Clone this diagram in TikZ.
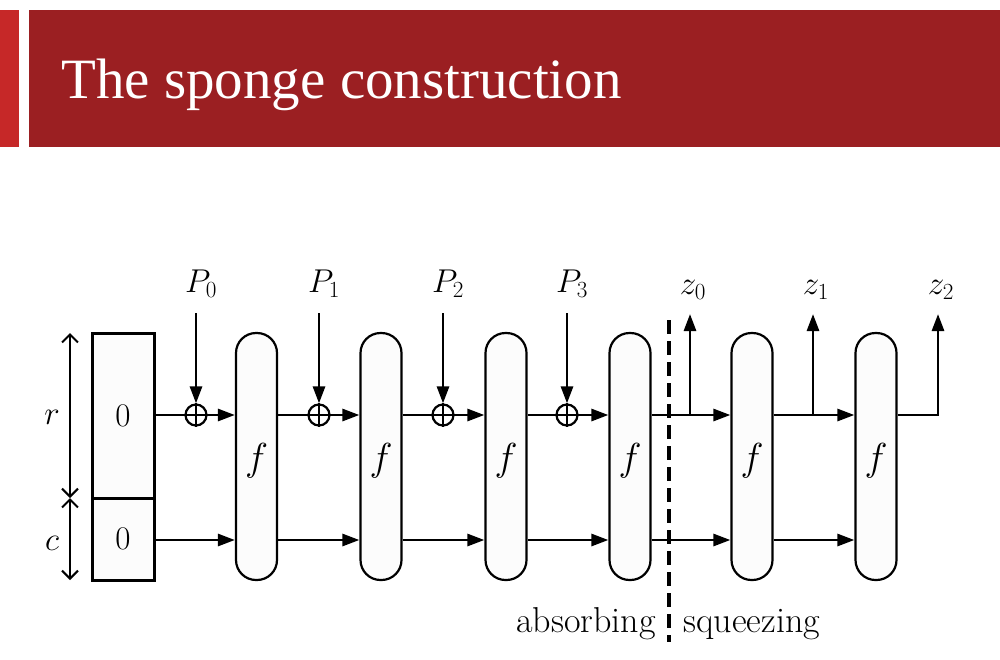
\RequirePackage{fix-cm}
\documentclass[tikz,border=0pt]{standalone}
\usepackage{fontspec}
\newfontfamily\titlefont{Liberation Serif}
\usetikzlibrary{arrows.meta}
\definecolor{barred}{HTML}{9B1F22}
\definecolor{stripered}{HTML}{C62828}
\begin{document}
\begin{tikzpicture}[x=1pt,y=-1pt,line width=2.8pt,
  big/.style={font=\fontsize{33}{33}\selectfont},
  arr/.style={-{Triangle[length=17pt,width=12pt]}},
  dbl/.style={{Straight Barb[length=8pt,width=16pt,line width=2pt]}-{Straight Barb[length=8pt,width=16pt,line width=2pt]}},
  fbox/.style={draw,rounded corners=20pt,minimum width=41pt,minimum height=247pt,inner sep=0pt,fill=gray!2,line width=2.2pt},
  state/.style={draw,minimum width=62pt,inner sep=0pt,fill=gray!2,line width=3pt,font=\fontsize{33}{33}\selectfont},
  xor/.style={draw,circle,minimum size=21pt,inner sep=0pt,line width=2.2pt},
  lab/.style={big,inner sep=0pt},
  word/.style={font=\fontsize{36}{36}\selectfont,inner sep=0pt},
  sep/.style={line width=3.2pt,dash pattern=on 14pt off 7pt}]
\useasboundingbox (0,0) rectangle (1000,659);
% title bar
\fill[stripered] (0,10) rectangle (19,147);
\fill[barred] (29,10) rectangle (1000,147);
\node[anchor=base west,inner sep=0pt,text=white,font=\titlefont\fontsize{57}{57}\selectfont] (title) at (60,98) {The sponge construction};
% state
\node[state,minimum height=165pt] (s0) at (123,415.5) {$0$};
\node[state,minimum height=82pt] (s1) at (123,539) {$0$};
\coordinate (rt) at (70,333);
\coordinate (rm) at (70,498);
\coordinate (rb) at (70,580);
\draw[dbl] (rt) -- (rm);
\draw[dbl] (rm) -- (rb);
\node[lab] (r) at (52,417) {$r$};
\node[lab] (c) at (52,543) {$c$};
% f boxes
\foreach \i/\x in {1/256.5,2/381,3/506,4/630,5/752,6/876}{
  \node[fbox] (f\i) at (\x,456.5) {};
  \node[inner sep=0pt,font=\fontsize{39}{39}\selectfont] (fl\i) at (\x,461) {$f$};
}
% xor nodes and inputs
\foreach \i/\x in {0/196,1/319,2/443,3/567}{
  \node[xor] (x\i) at (\x,415) {};
  \draw[line width=2.2pt] (x\i.north) -- (x\i.south) (x\i.west) -- (x\i.east);
  \node[lab] (P\i) at (\x+5,284) {$P_\i$};
  \coordinate (p\i) at (\x,313);
  \draw[arr] (p\i) -- (x\i.north);
}
% top row
\draw (s0.east |- x0) -- (x0.west);
\draw[arr] (x0.east) -- (f1.west |- x0);
\draw (f1.east |- x1) -- (x1.west);
\draw[arr] (x1.east) -- (f2.west |- x1);
\draw (f2.east |- x2) -- (x2.west);
\draw[arr] (x2.east) -- (f3.west |- x2);
\draw (f3.east |- x3) -- (x3.west);
\draw[arr] (x3.east) -- (f4.west |- x3);
\draw[arr] (f4.east |- x3) -- (f5.west |- x3);
\draw[arr] (f5.east |- x3) -- (f6.west |- x3);
% outputs
\foreach \i/\x in {0/690,1/813,2/938}{
  \node[lab] (z\i) at (\x+3,290) {$z_\i$};
  \coordinate (zb\i) at (\x,415);
  \coordinate (zt\i) at (\x,314);
}
\draw[arr] (zb0) -- (zt0);
\draw[arr] (zb1) -- (zt1);
\draw[arr] (f6.east |- x3) -- (zb2) -- (zt2);
% bottom row
\draw[arr] (s1.east |- 0,540) -- (f1.west |- 0,540);
\draw[arr] (f1.east |- 0,540) -- (f2.west |- 0,540);
\draw[arr] (f2.east |- 0,540) -- (f3.west |- 0,540);
\draw[arr] (f3.east |- 0,540) -- (f4.west |- 0,540);
\draw[arr] (f4.east |- 0,540) -- (f5.west |- 0,540);
\draw[arr] (f5.east |- 0,540) -- (f6.west |- 0,540);
% separator
\coordinate (dt) at (669,320);
\coordinate (db) at (669,642);
\draw[sep] (dt) -- (db);
\node[word,anchor=base east] (abs) at (657,632) {absorbing};
\node[word,anchor=base west] (sq) at (682,632) {squeezing};
\end{tikzpicture}
\end{document}
